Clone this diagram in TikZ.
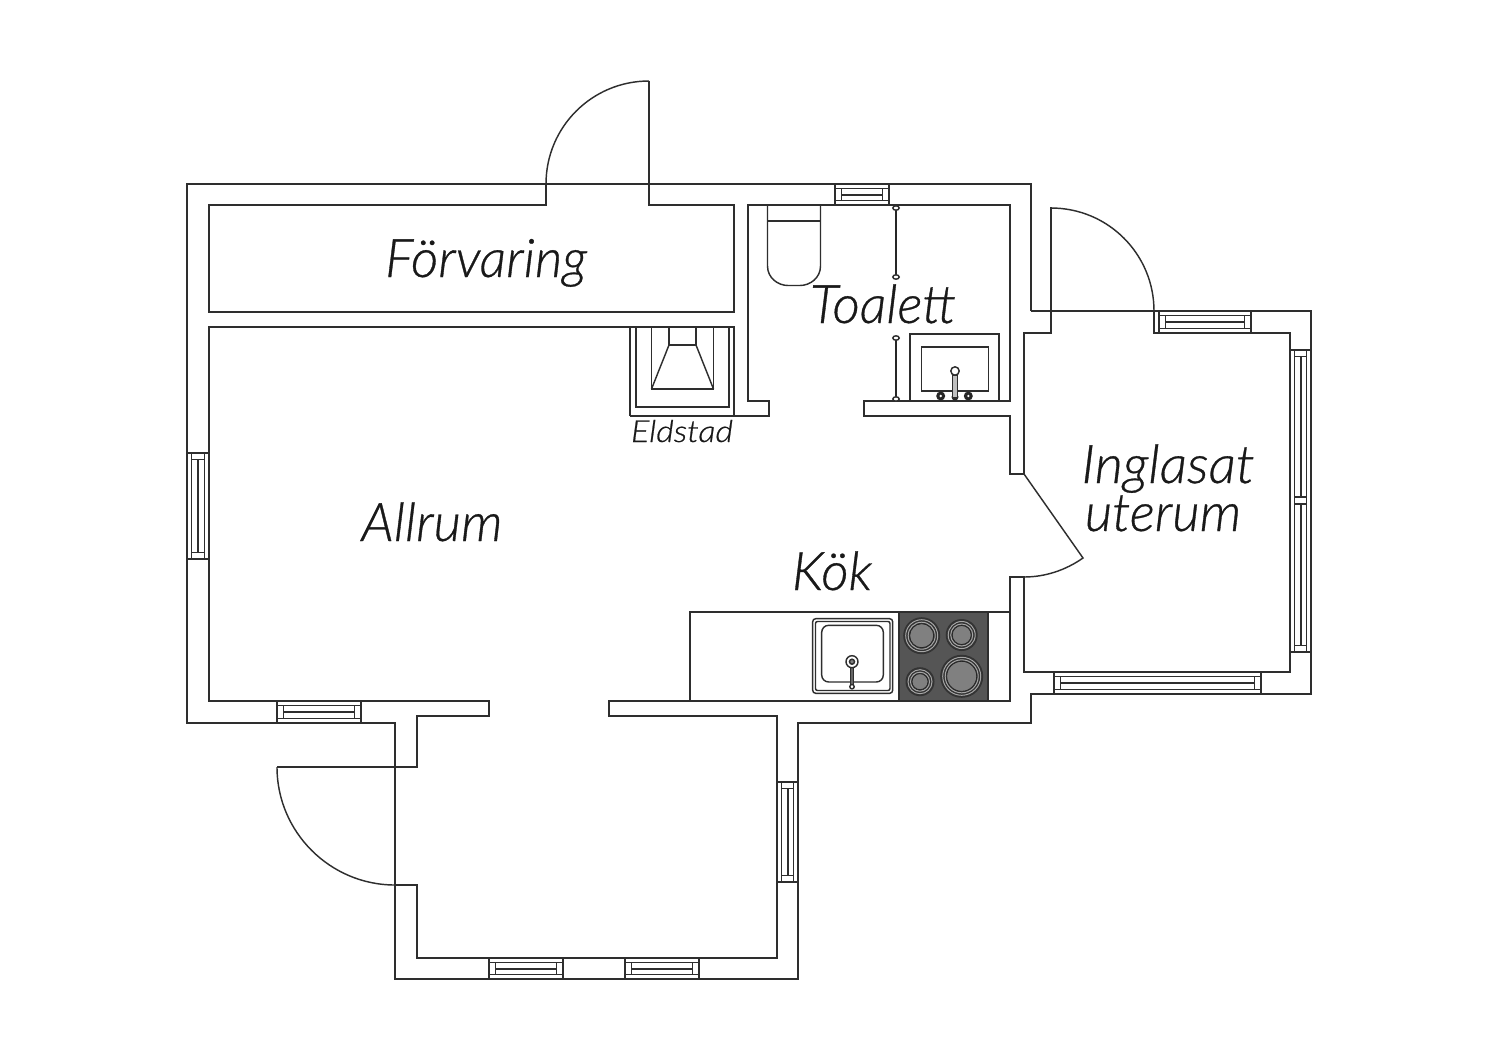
\documentclass[tikz,border=0pt]{standalone}
\usepackage{fontspec}
\setmainfont{Lato Light Italic}[RawFeature={embolden=0.6}]
\tikzset{
  wall/.style={line width=0.72pt,draw=black!82,line join=miter},
  thin part/.style={line width=0.72pt,draw=black!82},
  rail/.style={line width=1.2pt,draw=black!85},
  label text/.style={anchor=base,inner sep=0pt,text=black!90},
}
\definecolor{stove}{HTML}{555555}
\definecolor{burner}{HTML}{808080}
% horizontal window: x1 x2 y1 y2
\newcommand{\hwin}[4]{%
  \draw[thin part] (#1,#3) rectangle (#2,#4);
  \draw[thin part] (#1,#3+4.5) -- (#2,#3+4.5) (#1,#4-4.5) -- (#2,#4-4.5);
  \draw[thin part] (#1+6.5,#3+4.5) rectangle (#2-6.5,#4-4.5);
  \draw[thin part] (#1+6.5,#3+11) -- (#2-6.5,#3+11);
}
% vertical window: y1 y2 x1 x2
\newcommand{\vwin}[4]{%
  \draw[thin part] (#3,#1) rectangle (#4,#2);
  \draw[thin part] (#3+4.5,#1) -- (#3+4.5,#2) (#4-4.5,#1) -- (#4-4.5,#2);
  \draw[thin part] (#3+4.5,#1+6.5) rectangle (#4-4.5,#2-6.5);
  \draw[thin part] (#3+11,#1+6.5) -- (#3+11,#2-6.5);
}
\newcommand{\rlabel}[5]{\node[label text,font=\fontsize{#4}{#4}\selectfont] (#1) at (#2,#3) {#5};}
\newcommand{\hob}[3]{%
  \fill[black!80] (#1,#2) circle ({#3});
  \draw[line width=0.5pt,draw=burner!70] (#1,#2) circle ({#3-2.5});
  \fill[black!80] (#1,#2) circle ({#3-3.5});
  \draw[line width=0.5pt,draw=burner!70] (#1,#2) circle ({#3-5});
  \fill[burner,draw=black!85,line width=0.4pt] (#1,#2) circle ({#3-6.5});
}
\begin{document}
\begin{tikzpicture}[x=0.5pt,y=-0.5pt]
\useasboundingbox[fill=white] (0,0) rectangle (1500,1060);

% main outer wall
\draw[wall] (1031,311) -- (1031,184) -- (187,184) -- (187,723) -- (395,723) -- (395,979) -- (798,979) -- (798,723) -- (1031,723) -- (1031,694) -- (1311,694) -- (1311,311) -- (1031,311);

% storage
\draw[wall] (546,184) -- (546,205) -- (209,205) -- (209,312) -- (734,312) -- (734,205) -- (649,205) -- (649,81);

% living room inner contour
\draw[wall] (630,416) -- (769,416) -- (769,401) -- (748,401) -- (748,205) -- (1010,205) -- (1010,401) -- (864,401) -- (864,416) -- (1010,416) -- (1010,474) -- (1024,474) -- (1024,333) -- (1051,333) -- (1051,207);
\draw[wall] (734,416) -- (734,327) -- (209,327) -- (209,701) -- (489,701) -- (489,716) -- (417,716) -- (417,767) -- (277,767);
\draw[wall] (395,885) -- (417,885) -- (417,958) -- (777,958) -- (777,716) -- (609,716) -- (609,701) -- (1010,701) -- (1010,577) -- (1024,577) -- (1024,672) -- (1290,672) -- (1290,333) -- (1154,333) -- (1154,311);

% doors
\draw[wall] (649,81) .. controls (592,81) and (546,127) .. (546,184);
\draw[wall] (1051,208) .. controls (1108,208) and (1154,254) .. (1154,311);
\draw[wall] (277,767) .. controls (277,832) and (330,885) .. (395,885);
\draw[wall] (1024,474) -- (1083,558) .. controls (1065.6,570.2) and (1045.2,577) .. (1024,577);

% windows
\hwin{835}{889}{184}{205}
\hwin{277}{361}{701}{723}
\hwin{1159}{1251}{311}{333}
\hwin{1054}{1261}{672}{694}
\hwin{489}{563}{958}{979}
\hwin{625}{699}{958}{979}
\vwin{453}{559}{187}{209}
\vwin{782}{882}{777}{798}
\vwin{350}{652}{1290}{1311}
\draw[thin part,fill=white] (1294.5,497) rectangle (1306.5,504);

% fireplace
\draw[thin part] (630,327) -- (630,416);
\draw[thin part] (636,327) -- (636,407) -- (729,407) -- (729,327);
\draw[thin part] (651.5,327) -- (651.5,389) -- (713.5,389) -- (713.5,327);
\draw[thin part] (669,327) -- (669,345) -- (696,345) -- (696,327);
\draw[thin part] (651.5,389) -- (669,345) (713.5,389) -- (696,345);

% toilet
\draw[thin part] (767.5,205) -- (767.5,266) .. controls (767.5,278) and (778,285.5) .. (788,285.5) -- (800,285.5) .. controls (810,285.5) and (820.5,278) .. (820.5,266) -- (820.5,205);
\draw[thin part] (767.5,221) -- (820.5,221);

% toilet door rails
\draw[rail] (896,208) -- (896,277) (896,338) -- (896,399);
\foreach \ry in {208,277,338,399}{\draw[thin part,fill=white] (896,\ry) ellipse (3.2 and 2.2);}

% wash basin
\draw[thin part] (910,401) -- (910,334) -- (999,334) -- (999,401);
\draw[thin part] (921.5,347) rectangle (988.5,391);
\fill[black!85] (940.7,396) circle (4.5) (968.3,396) circle (4.5) (955,397) circle (3.5);
\fill[white] (940.7,396) circle (1.3) (968.3,396) circle (1.3);
\draw[thin part,fill=black!25] (952.5,375) rectangle (957.5,398);
\draw[thin part,fill=white] (955,371) circle (4.2);

% kitchen
\draw[wall] (690,701) -- (690,612) -- (1010,612);
\fill[stove] (899,612) rectangle (988,701);
\draw[thin part] (899,612) rectangle (988,701);
\hob{921.7}{635.7}{18.5}
\hob{961.7}{635}{16}
\hob{920}{681.7}{14.5}
\hob{961.7}{676.3}{21.5}
\draw[thin part,rounded corners=1.5pt] (812.7,618.7) rectangle (892.7,693.3);
\draw[thin part,rounded corners=1pt] (815.5,621.5) rectangle (890,690.5);
\draw[thin part,rounded corners=3.5pt] (821.7,625.3) rectangle (883.3,682);
\draw[thin part,fill=black!60] (850.5,662) rectangle (853.5,687);
\draw[thin part,fill=white] (852,661.7) circle (6);
\draw[thin part,fill=black!50] (852,661.7) circle (2.5);
\draw[thin part,fill=white] (852,686.7) circle (2.2);

% labels
\rlabel{forvaring}{486}{277}{26.6}{Förvaring}
\rlabel{toalett}{883}{323}{26.6}{Toalett}
\rlabel{allrum}{432}{541}{26.6}{Allrum}
\rlabel{kok}{832}{590}{26.6}{Kök}
\rlabel{inglasat}{1168}{483}{26.6}{\scalebox{1.03}[1]{Inglasat}}
\rlabel{uterum}{1163}{531}{26.6}{uterum}
\rlabel{eldstad}{682}{442}{15.2}{\scalebox{1.12}[1]{Eldstad}}
\end{tikzpicture}
\end{document}
